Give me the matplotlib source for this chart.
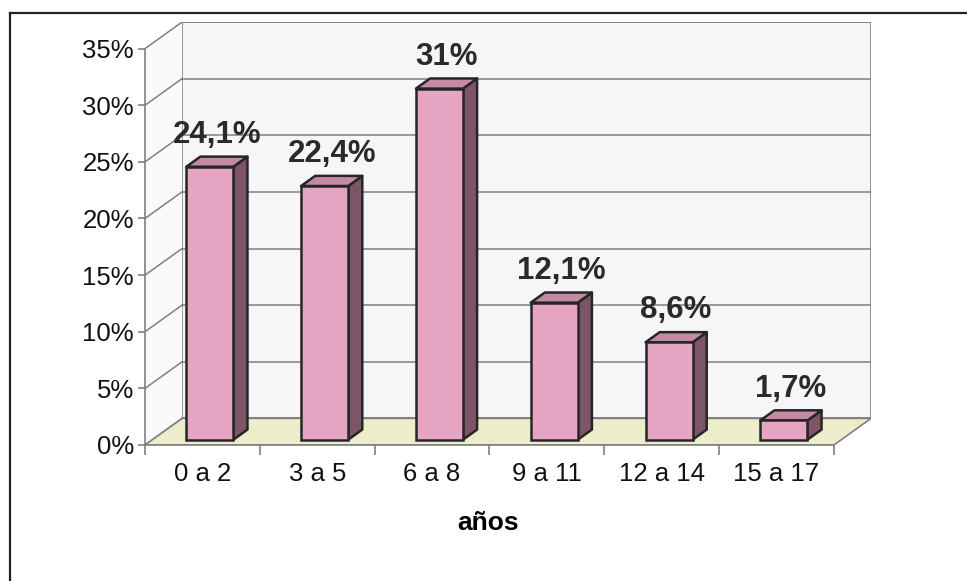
import matplotlib
matplotlib.use("Agg")
import matplotlib.pyplot as plt
from matplotlib.patches import Polygon
from matplotlib.lines import Line2D

categories = ["0 a 2", "3 a 5", "6 a 8", "9 a 11", "12 a 14", "15 a 17"]
values = [24.1, 22.4, 31.0, 12.1, 8.6, 1.7]
labels = ["24,1%", "22,4%", "31%", "12,1%", "8,6%", "1,7%"]
yticks = [0, 5, 10, 15, 20, 25, 30, 35]
ytick_labels = ["0%", "5%", "10%", "15%", "20%", "25%", "30%", "35%"]
xlabel = "años"

plt.rcParams['font.family'] = ['Liberation Sans', 'DejaVu Sans']

# 3D-like projection parameters (in data units)
DDX = 0.323   # depth offset along x (categories)
DDY = 2.35    # depth offset along y (percent)
D0, D1 = 0.2, 0.58   # bar depth start/end fractions
BW = 0.41
YMAX = 35

fig = plt.figure(figsize=(9.67, 5.81), dpi=100)
ax = fig.add_axes([145/967, (581-445)/581, 726/967, 423/581])
n = len(categories)
ax.set_xlim(0, n + DDX)
ax.set_ylim(0, YMAX + DDY)
ax.patch.set_visible(False)

grid_c = "#808080"
# back wall
ax.add_patch(Polygon([(DDX, DDY), (n + DDX, DDY), (n + DDX, YMAX + DDY), (DDX, YMAX + DDY)],
                     closed=True, facecolor="#F6F6F8", edgecolor=grid_c, lw=1.2, zorder=0))
# side wall
ax.add_patch(Polygon([(0, 0), (DDX, DDY), (DDX, YMAX + DDY), (0, YMAX)],
                     closed=True, facecolor="#FAFAFC", edgecolor="none", zorder=0))
# floor
ax.add_patch(Polygon([(0, 0), (n, 0), (n + DDX, DDY), (DDX, DDY)],
                     closed=True, facecolor="#EDEDCB", edgecolor=grid_c, lw=1.2, zorder=1))
# gridlines on back wall and side wall
for v in yticks:
    ax.plot([DDX, n + DDX], [v + DDY, v + DDY], color=grid_c, lw=1.1, zorder=0.5)
    ax.plot([0, DDX], [v, v + DDY], color=grid_c, lw=1.1, zorder=0.5)

# bars
front_c, top_c, side_c, edge_c = "#E6A5C2", "#C48AA4", "#7D5566", "#262626"
for i, v in enumerate(values):
    x0 = i + 0.5 - BW / 2 + D0 * DDX
    x1 = x0 + BW
    y0 = D0 * DDY
    y1 = y0 + v
    ddx = (D1 - D0) * DDX
    ddy = (D1 - D0) * DDY
    ax.add_patch(Polygon([(x1, y0), (x1 + ddx, y0 + ddy), (x1 + ddx, y1 + ddy), (x1, y1)],
                         closed=True, facecolor=side_c, edgecolor=edge_c, lw=1.8, zorder=3,
                         joinstyle="round"))
    ax.add_patch(Polygon([(x0, y1), (x1, y1), (x1 + ddx, y1 + ddy), (x0 + ddx, y1 + ddy)],
                         closed=True, facecolor=top_c, edgecolor=edge_c, lw=1.8, zorder=3,
                         joinstyle="round"))
    ax.bar(x0, v, width=BW, bottom=y0, align="edge", color=front_c,
           edgecolor=edge_c, lw=1.8, zorder=4)
    ax.text(i + 0.5 + (D0 + D1) / 2 * DDX, y1 + ddy + 0.6, labels[i],
            ha="center", va="bottom", fontsize=22.5, fontweight="bold", color="#2A2A2A",
            zorder=5)

# axes / ticks
for s in ["top", "right"]:
    ax.spines[s].set_visible(False)
ax.spines["left"].set_bounds(0, YMAX)
ax.spines["bottom"].set_bounds(0, n)
for s in ["left", "bottom"]:
    ax.spines[s].set_color(grid_c)
    ax.spines[s].set_linewidth(1.2)
    ax.spines[s].set_zorder(2)
ax.set_yticks(yticks)
ax.set_yticklabels(ytick_labels, fontsize=18.5)
ax.set_xticks(range(n + 1))
ax.set_xticklabels([""] * (n + 1))
ax.set_xticks([i + 0.5 for i in range(n)], minor=True)
ax.set_xticklabels(categories, minor=True, fontsize=18.5)
ax.tick_params(axis="y", length=5, width=1.2, color=grid_c, pad=3, labelcolor="#111111")
ax.tick_params(axis="x", which="major", length=7, width=1.2, color=grid_c)
ax.tick_params(axis="x", which="minor", length=0, pad=12, labelcolor="#111111")
ax.set_xlabel(xlabel, fontsize=19, fontweight="bold")
ax.xaxis.set_label_coords((488 - 145) / 726, -(523 - 445) / 423)
ax.xaxis.label.set_va("center")

# outer frame lines
fig.add_artist(Line2D([10/967, 10/967], [0, 1 - 13/581], color="#222222", lw=1.6))
fig.add_artist(Line2D([10/967, 1], [1 - 13/581, 1 - 13/581], color="#222222", lw=1.6))

fig.savefig("out.png", dpi=100)
